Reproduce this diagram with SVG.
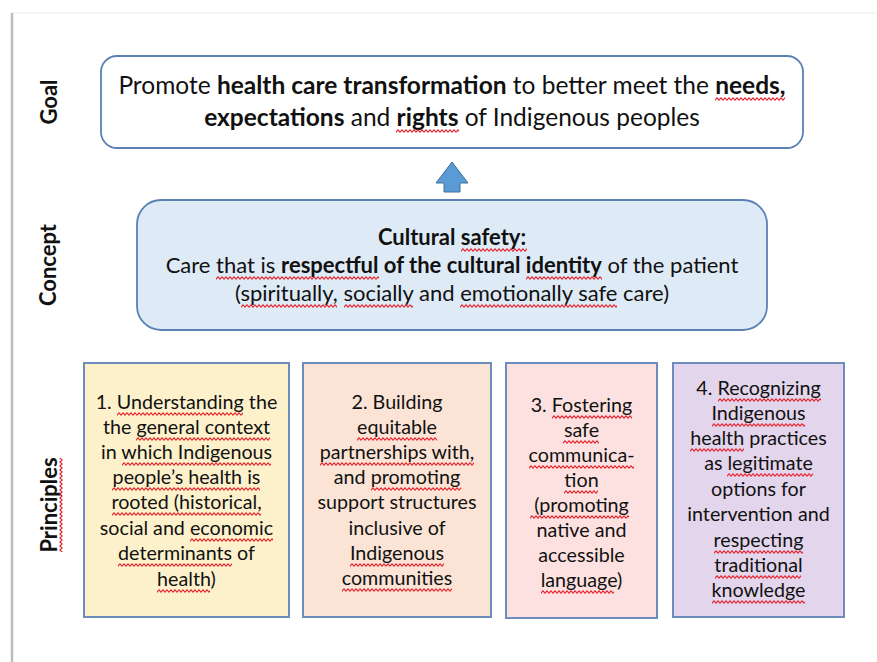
<svg xmlns="http://www.w3.org/2000/svg" width="877" height="662" viewBox="0 0 877 662">
<style>
text{font-family:Lato,"Open Sans","Liberation Sans",sans-serif;fill:#111;}
.g{font-size:24.5px;text-anchor:middle;}
.c{font-size:22px;text-anchor:middle;}
.p{font-size:19.7px;text-anchor:middle;}
.side{font-size:22px;font-weight:bold;text-anchor:middle;}
.b{font-weight:bold;}
.box{stroke:#6b8cbd;stroke-width:2;}
.w{fill:url(#wv);}
</style>
<defs>
<pattern id="wv" x="0" y="0" width="4" height="4" patternUnits="userSpaceOnUse">
<path d="M-2,0.9 L0,3.1 L2,0.9 L4,3.1 L6,0.9" fill="none" stroke="#e3262f" stroke-width="1.1"/>
</pattern>
</defs>
<rect x="0" y="0" width="877" height="662" fill="#ffffff"/>
<rect x="12" y="13" width="866" height="660" fill="#ffffff" stroke="#ececec" stroke-width="1"/>
<line x1="12" y1="13" x2="12" y2="662" stroke="#bcbcbc" stroke-width="2.5"/>

<g id="label-goal"><text class="side" transform="translate(57,102) rotate(-90)">Goal</text></g>
<g id="label-concept"><text class="side" transform="translate(56,265) rotate(-90)">Concept</text></g>
<g id="label-principles"><text class="side" transform="translate(57,505) rotate(-90)">Principles</text></g>

<g id="goal">
<rect x="101" y="56" width="702" height="92" rx="16" fill="#ffffff" stroke="#5b80b6" stroke-width="1.8"/>
<text class="g" x="452" y="94">Promote <tspan class="b">health care transformation</tspan> to better meet the <tspan class="b">needs,</tspan></text>
<text class="g" x="452" y="126"><tspan class="b">expectations</tspan> and <tspan class="b">rights</tspan> of Indigenous peoples</text>
</g>

<g id="connectors">
<path d="M452,162 L468,183 L460,183 L460,192 L444,192 L444,183 L436,183 Z" fill="#5b9bd5" stroke="#41719c" stroke-width="1"/>
</g>

<g id="concept">
<rect x="137" y="200" width="630" height="130" rx="24" fill="#deeaf6" stroke="#5b80b6" stroke-width="1.8"/>
<text class="c" x="452" y="245"><tspan class="b">Cultural safety:</tspan></text>
<text class="c" x="452" y="273">Care that is <tspan class="b">respectful of the cultural identity</tspan> of the patient</text>
<text class="c" x="452" y="301">(spiritually, socially and emotionally safe care)</text>
</g>

<g id="principle-1">
<rect class="box" x="84" y="363" width="205" height="254" fill="#fdf1cc"/>
<text class="p" x="186.5" y="409">1. Understanding the</text>
<text class="p" x="186.5" y="434">the general context</text>
<text class="p" x="186.5" y="459">in which Indigenous</text>
<text class="p" x="186.5" y="484">people’s health is</text>
<text class="p" x="186.5" y="509">rooted (historical,</text>
<text class="p" x="186.5" y="535">social and economic</text>
<text class="p" x="186.5" y="560">determinants of</text>
<text class="p" x="186.5" y="586">health)</text>
</g>

<g id="principle-2">
<rect class="box" x="303" y="363" width="188" height="254" fill="#fbe4d5"/>
<text class="p" x="397" y="409">2. Building</text>
<text class="p" x="397" y="434">equitable</text>
<text class="p" x="397" y="459">partnerships with,</text>
<text class="p" x="397" y="484">and promoting</text>
<text class="p" x="397" y="509">support structures</text>
<text class="p" x="397" y="535">inclusive of</text>
<text class="p" x="397" y="560">Indigenous</text>
<text class="p" x="397" y="585">communities</text>
</g>

<g id="principle-3">
<rect class="box" x="506" y="363" width="151" height="255" fill="#fde1e0"/>
<text class="p" x="581.5" y="412">3. Fostering</text>
<text class="p" x="581.5" y="437">safe</text>
<text class="p" x="581.5" y="462">communica-</text>
<text class="p" x="581.5" y="487">tion</text>
<text class="p" x="581.5" y="512">(promoting</text>
<text class="p" x="581.5" y="537">native and</text>
<text class="p" x="581.5" y="562">accessible</text>
<text class="p" x="581.5" y="587">language)</text>
</g>

<g id="principle-4">
<rect class="box" x="673" y="363" width="171" height="254" fill="#e3d5eb"/>
<text class="p" x="758.5" y="395">4. Recognizing</text>
<text class="p" x="758.5" y="420">Indigenous</text>
<text class="p" x="758.5" y="445">health practices</text>
<text class="p" x="758.5" y="470">as legitimate</text>
<text class="p" x="758.5" y="496">options for</text>
<text class="p" x="758.5" y="521">intervention and</text>
<text class="p" x="758.5" y="547">respecting</text>
<text class="p" x="758.5" y="572">traditional</text>
<text class="p" x="758.5" y="597">knowledge</text>
</g>

<g id="spellcheck-marks">
<rect class="w" transform="translate(59,552) rotate(-90)" width="94" height="4"/>
<rect class="w" transform="translate(715,97)" width="70" height="4"/>
<rect class="w" transform="translate(396,129)" width="63" height="4"/>
<rect class="w" transform="translate(461,248)" width="66" height="4"/>
<rect class="w" transform="translate(216,276)" width="163" height="4"/>
<rect class="w" transform="translate(526,276)" width="76" height="4"/>
<rect class="w" transform="translate(241,304)" width="96" height="4"/>
<rect class="w" transform="translate(344,304)" width="69" height="4"/>
<rect class="w" transform="translate(460,304)" width="157" height="4"/>
<rect class="w" transform="translate(117,412)" width="126" height="4"/>
<rect class="w" transform="translate(136,437)" width="134" height="4"/>
<rect class="w" transform="translate(122,462)" width="149" height="4"/>
<rect class="w" transform="translate(112,487)" width="148" height="4"/>
<rect class="w" transform="translate(112,512)" width="149" height="4"/>
<rect class="w" transform="translate(190,538)" width="83" height="4"/>
<rect class="w" transform="translate(118,563)" width="114" height="4"/>
<rect class="w" transform="translate(157,589)" width="53" height="4"/>
<rect class="w" transform="translate(357,437)" width="80" height="4"/>
<rect class="w" transform="translate(320,462)" width="154" height="4"/>
<rect class="w" transform="translate(371,487)" width="90" height="4"/>
<rect class="w" transform="translate(350,563)" width="94" height="4"/>
<rect class="w" transform="translate(342,588)" width="110" height="4"/>
<rect class="w" transform="translate(552,415)" width="80" height="4"/>
<rect class="w" transform="translate(563,440)" width="36" height="4"/>
<rect class="w" transform="translate(529,465)" width="105" height="4"/>
<rect class="w" transform="translate(564,490)" width="34" height="4"/>
<rect class="w" transform="translate(530,515)" width="99" height="4"/>
<rect class="w" transform="translate(541,590)" width="73" height="4"/>
<rect class="w" transform="translate(718,398)" width="103" height="4"/>
<rect class="w" transform="translate(712,423)" width="93" height="4"/>
<rect class="w" transform="translate(690,448)" width="54" height="4"/>
<rect class="w" transform="translate(727,473)" width="86" height="4"/>
<rect class="w" transform="translate(714,550)" width="89" height="4"/>
<rect class="w" transform="translate(715,575)" width="86" height="4"/>
<rect class="w" transform="translate(712,600)" width="93" height="4"/>
</g>
</svg>
